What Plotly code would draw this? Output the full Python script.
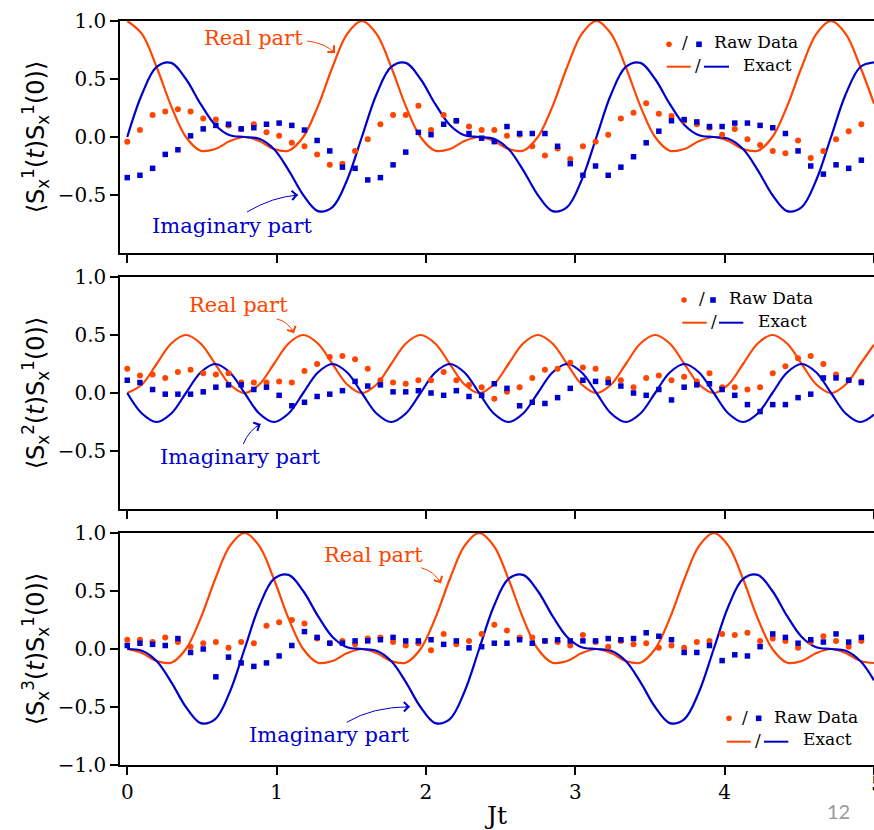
import plotly.graph_objects as go

# ---------------- data ----------------
# exact curves sampled in Jt
t_exact = [0, 0.0982, 0.1963, 0.2945, 0.3927, 0.4909, 0.5890, 0.6872, 0.7854, 0.8836,
           0.9817, 1.0799, 1.1781, 1.2763, 1.3744, 1.4726, 1.5708, 1.6690, 1.7671, 1.8653,
           1.9635, 2.0617, 2.1598, 2.2580, 2.3562, 2.4544, 2.5525, 2.6507, 2.7489, 2.8471,
           2.9452, 3.0434, 3.1416, 3.2398, 3.3379, 3.4361, 3.5343, 3.6325, 3.7306, 3.8288,
           3.9270, 4.0252, 4.1233, 4.2215, 4.3197, 4.4179, 4.5160, 4.6142, 4.7124, 4.8106,
           4.9087, 5.0]

exact_re1 = [1, .8887, .6036, .2646, 0, -.1181, -.1036, -.0352, 0, -.0352, -.1036, -.1181, 0, .2646, .6036, .8887,
             1, .8887, .6036, .2646, 0, -.1181, -.1036, -.0352, 0, -.0352, -.1036, -.1181, 0, .2646, .6036, .8887,
             1, .8887, .6036, .2646, 0, -.1181, -.1036, -.0352, 0, -.0352, -.1036, -.1181, 0, .2646, .6036, .8887,
             1, .8887, .6036, .2877]
exact_im1 = [0, .3681, .6036, .6387, .5, .2852, .1036, .0146, 0, -.0146, -.1036, -.2852, -.5, -.6387, -.6036, -.3681,
             0, .3681, .6036, .6387, .5, .2852, .1036, .0146, 0, -.0146, -.1036, -.2852, -.5, -.6387, -.6036, -.3681,
             0, .3681, .6036, .6387, .5, .2852, .1036, .0146, 0, -.0146, -.1036, -.2852, -.5, -.6387, -.6036, -.3681,
             0, .3681, .6036, .6428]
exact_re2 = [0, .0732, .25, .4268, .5, .4268, .25, .0732, 0, .0732, .25, .4268, .5, .4268, .25, .0732,
             0, .0732, .25, .4268, .5, .4268, .25, .0732, 0, .0732, .25, .4268, .5, .4268, .25, .0732,
             0, .0732, .25, .4268, .5, .4268, .25, .0732, 0, .0732, .25, .4268, .5, .4268, .25, .0732,
             0, .0732, .25, .4166]
exact_im2 = [0, -.1768, -.25, -.1768, 0, .1768, .25, .1768, 0, -.1768, -.25, -.1768, 0, .1768, .25, .1768,
             0, -.1768, -.25, -.1768, 0, .1768, .25, .1768, 0, -.1768, -.25, -.1768, 0, .1768, .25, .1768,
             0, -.1768, -.25, -.1768, 0, .1768, .25, .1768, 0, -.1768, -.25, -.1768, 0, .1768, .25, .1768,
             0, -.1768, -.25, -.1864]
exact_re3 = [0, -.0352, -.1036, -.1181, 0, .2646, .6036, .8887, 1, .8887, .6036, .2646, 0, -.1181, -.1036, -.0352,
             0, -.0352, -.1036, -.1181, 0, .2646, .6036, .8887, 1, .8887, .6036, .2646, 0, -.1181, -.1036, -.0352,
             0, -.0352, -.1036, -.1181, 0, .2646, .6036, .8887, 1, .8887, .6036, .2646, 0, -.1181, -.1036, -.0352,
             0, -.0352, -.1036, -.1208]
exact_im3 = [0, -.0146, -.1036, -.2852, -.5, -.6387, -.6036, -.3681, 0, .3681, .6036, .6387, .5, .2852, .1036, .0146,
             0, -.0146, -.1036, -.2852, -.5, -.6387, -.6036, -.3681, 0, .3681, .6036, .6387, .5, .2852, .1036, .0146,
             0, -.0146, -.1036, -.2852, -.5, -.6387, -.6036, -.3681, 0, .3681, .6036, .6387, .5, .2852, .1036, .0146,
             0, -.0146, -.1036, -.2700]

# raw data times
t_raw = [0, 0.0847, 0.1695, 0.2542, 0.3390, 0.4237, 0.5085, 0.5932, 0.6780, 0.7627,
         0.8475, 0.9322, 1.0169, 1.1017, 1.1864, 1.2712, 1.3559, 1.4407, 1.5254, 1.6102,
         1.6949, 1.7797, 1.8644, 1.9492, 2.0339, 2.1186, 2.2034, 2.2881, 2.3729, 2.4576,
         2.5424, 2.6271, 2.7119, 2.7966, 2.8814, 2.9661, 3.0508, 3.1356, 3.2203, 3.3051,
         3.3898, 3.4746, 3.5593, 3.6441, 3.7288, 3.8136, 3.8983, 3.9831, 4.0678, 4.1525,
         4.2373, 4.3220, 4.4068, 4.4915, 4.5763, 4.6610, 4.7458, 4.8305, 4.9153]

raw_re1 = [-0.04, 0.06, 0.19, 0.22, 0.24, 0.22, 0.16, 0.15, 0.10, 0.07,
           0.11, 0.04, 0.01, -0.05, -0.08, -0.15, -0.24, -0.23, -0.12, -0.02,
           0.11, 0.19, 0.19, 0.27, 0.06, 0.19, 0.14, 0.09, 0.06, 0.06,
           0.01, 0.02, -0.08, -0.16, -0.10, -0.19, -0.08, -0.04, 0.02, 0.16,
           0.21, 0.29, 0.20, 0.18, 0.14, 0.11, 0.08, 0.02, 0.07, -0.02,
           -0.07, -0.12, -0.14, -0.03, -0.18, -0.12, -0.02, 0.05, 0.11]
raw_im1 = [-0.35, -0.33, -0.27, -0.15, -0.11, 0.01, 0.07, 0.10, 0.11, 0.07,
           0.08, 0.11, 0.12, 0.10, 0.06, -0.03, -0.12, -0.26, -0.27, -0.37,
           -0.35, -0.24, -0.13, 0.04, 0.02, 0.11, 0.14, 0.03, -0.01, -0.04,
           0.09, 0.03, 0.03, 0.03, -0.08, -0.23, -0.33, -0.25, -0.33, -0.26,
           -0.17, -0.05, 0.05, 0.14, 0.15, 0.13, 0.09, 0.09, 0.12, 0.12,
           0.10, 0.08, 0.03, -0.12, -0.25, -0.32, -0.24, -0.27, -0.20]
raw_re2 = [0.21, 0.15, 0.16, 0.13, 0.18, 0.20, 0.17, 0.16, 0.17, 0.09,
           0.09, 0.09, 0.10, 0.09, 0.19, 0.25, 0.31, 0.32, 0.29, 0.21,
           0.11, 0.09, 0.08, 0.11, 0.11, 0.18, 0.11, 0.07, 0.05, -0.05,
           0.01, 0.05, 0.13, 0.20, 0.21, 0.26, 0.22, 0.21, 0.12, 0.11,
           0.05, 0.13, 0.15, 0.11, 0.14, 0.10, 0.17, 0.05, 0.05, 0.03,
           0.05, 0.17, 0.23, 0.30, 0.32, 0.25, 0.16, 0.11, 0.10]
raw_im2 = [0.11, 0.09, 0.03, -0.01, -0.01, -0.01, 0.01, 0.05, 0.07, 0.07,
           0.03, 0.05, -0.02, -0.11, -0.08, -0.03, -0.01, 0.02, 0.10, 0.06,
           0.07, 0.01, 0.01, 0.02, 0.00, -0.02, 0.02, -0.03, -0.02, 0.08,
           0.04, -0.11, -0.08, -0.09, -0.04, 0.04, 0.11, 0.10, 0.09, 0.06,
           0.00, -0.02, 0.03, -0.06, 0.05, 0.07, 0.08, 0.03, -0.02, -0.10,
           -0.16, -0.10, -0.10, -0.04, -0.01, 0.13, 0.13, 0.11, 0.09]
raw_re3 = [0.08, 0.08, 0.06, 0.10, 0.06, 0.02, 0.05, 0.06, 0.01, 0.06,
           0.05, 0.20, 0.23, 0.25, 0.22, 0.09, 0.05, 0.07, 0.04, 0.09,
           0.10, 0.06, 0.03, 0.05, -0.01, 0.13, 0.04, 0.07, 0.13, 0.21,
           0.16, 0.10, 0.10, 0.07, 0.06, 0.03, 0.12, 0.06, 0.02, 0.07,
           0.04, 0.05, 0.01, 0.03, 0.01, 0.06, 0.07, 0.13, 0.12, 0.14,
           0.07, 0.09, 0.07, 0.01, 0.06, 0.11, 0.07, 0.02, 0.07]
raw_im3 = [0.03, 0.05, 0.04, 0.03, 0.09, -0.03, 0.00, -0.24, -0.07, -0.12,
           -0.15, -0.12, -0.06, 0.03, 0.15, 0.10, 0.05, 0.05, 0.07, 0.07,
           0.08, 0.10, 0.07, 0.07, 0.08, 0.04, 0.07, 0.01, 0.02, 0.05,
           0.05, 0.08, 0.05, 0.07, 0.08, 0.07, 0.07, 0.07, 0.09, 0.08,
           0.09, 0.14, 0.11, 0.08, -0.03, -0.03, 0.03, -0.10, -0.05, -0.06,
           0.02, 0.13, 0.10, 0.05, 0.08, 0.06, 0.13, 0.06, 0.10]

x_ticks = [0, 1, 2, 3, 4, 5]
y_ticks_top = [-0.5, 0, 0.5, 1]
y_ticks_bottom = [-1, -0.5, 0, 0.5, 1]
y_labels = ["⟨S<sub>x</sub><sup>1</sup>(<i>t</i>)S<sub>x</sub><sup>1</sup>(0)⟩",
            "⟨S<sub>x</sub><sup>2</sup>(<i>t</i>)S<sub>x</sub><sup>1</sup>(0)⟩",
            "⟨S<sub>x</sub><sup>3</sup>(<i>t</i>)S<sub>x</sub><sup>1</sup>(0)⟩"]

# ---------------- styling / layout ----------------
RED = "#FF4500"
BLUE = "#0000CD"
W, H = 874, 830
L, R, T, B = 120, 874, 21, 765
SERIF = "DejaVu Serif"


def fx(px):
    return (px - L) / (R - L)


def fy(py):
    return (B - py) / (B - T)


panels = [
    (exact_re1, exact_im1, raw_re1, raw_im1),
    (exact_re2, exact_im2, raw_re2, raw_im2),
    (exact_re3, exact_im3, raw_re3, raw_im3),
]
domains = [[fy(253), 1.0], [fy(509), fy(277)], [0.0, fy(533)]]

fig = go.Figure()
for i, (ere, eim, rre, rim) in enumerate(panels):
    xa = "x" if i == 0 else f"x{i+1}"
    ya = "y" if i == 0 else f"y{i+1}"
    fig.add_trace(go.Scatter(x=t_exact, y=ere, mode="lines", xaxis=xa, yaxis=ya,
                             line=dict(color=RED, width=2.2, shape="spline"), showlegend=False))
    fig.add_trace(go.Scatter(x=t_exact, y=eim, mode="lines", xaxis=xa, yaxis=ya,
                             line=dict(color=BLUE, width=2.2, shape="spline"), showlegend=False))
    fig.add_trace(go.Scatter(x=t_raw, y=rre, mode="markers", xaxis=xa, yaxis=ya,
                             marker=dict(color=RED, size=6, symbol="circle", line=dict(width=0)),
                             showlegend=False))
    fig.add_trace(go.Scatter(x=t_raw, y=rim, mode="markers", xaxis=xa, yaxis=ya,
                             marker=dict(color=BLUE, size=5.5, symbol="square", line=dict(width=0)),
                             showlegend=False))

axis_common = dict(showline=True, linecolor="black", linewidth=1.5, ticks="outside",
                   ticklen=8, tickwidth=1.5, tickcolor="black", showgrid=False, zeroline=False,
                   tickfont=dict(family=SERIF, size=20, color="black"))

layout = dict(width=W, height=H, margin=dict(l=L, r=W - R, t=T, b=H - B),
              paper_bgcolor="white", plot_bgcolor="white", showlegend=False,
              font=dict(family=SERIF, color="black"))
for i in range(3):
    xk = "xaxis" if i == 0 else f"xaxis{i+1}"
    yk = "yaxis" if i == 0 else f"yaxis{i+1}"
    ya = "y" if i == 0 else f"y{i+1}"
    xa = "x" if i == 0 else f"x{i+1}"
    xd = dict(axis_common, domain=[0, 1], anchor=ya, range=[-0.0487, 5.0], mirror=True,
              tickvals=x_ticks, ticktext=[str(v) for v in x_ticks], showticklabels=(i == 2))
    if i == 2:
        xd["title"] = dict(text="Jt", font=dict(family=SERIF, size=25), standoff=8)
    yt = y_ticks_bottom if i == 2 else y_ticks_top
    yd = dict(axis_common, domain=domains[i], anchor=xa, range=[-1, 1], mirror=False,
              tickvals=yt, ticktext=[f"{v:.1f}".replace("-", "−") for v in yt],
              title=dict(text=y_labels[i], font=dict(family="DejaVu Sans", size=24), standoff=6))
    layout[xk] = xd
    layout[yk] = yd
fig.update_layout(**layout)

annotations = []
shapes = []


def text(xp, yp, s, color, size):
    annotations.append(dict(x=fx(xp), y=fy(yp), xref="paper", yref="paper", text=s,
                            showarrow=False, xanchor="center", yanchor="middle",
                            font=dict(family=SERIF, size=size, color=color)))


def curved_arrow(p0, c, p1, color):
    shapes.append(dict(type="path", xref="paper", yref="paper",
                       path=f"M {fx(p0[0])},{fy(p0[1])} Q {fx(c[0])},{fy(c[1])} {fx(p1[0])},{fy(p1[1])}",
                       line=dict(color=color, width=1)))
    dx, dy = p1[0] - c[0], p1[1] - c[1]
    n = (dx * dx + dy * dy) ** 0.5
    annotations.append(dict(x=fx(p1[0]), y=fy(p1[1]), xref="paper", yref="paper", text="",
                            showarrow=True, arrowhead=4, arrowsize=1.8, arrowwidth=1,
                            arrowcolor=color, standoff=0, ax=-dx / n * 6, ay=-dy / n * 6))


def legend(dot, sq, slash1, raw_txt, l1, slash2, l2, ex_txt):
    r = 2.8
    shapes.append(dict(type="circle", xref="paper", yref="paper", x0=fx(dot[0] - r), x1=fx(dot[0] + r),
                       y0=fy(dot[1] + r), y1=fy(dot[1] - r), fillcolor=RED, line=dict(width=0)))
    shapes.append(dict(type="rect", xref="paper", yref="paper", x0=fx(sq[0] - r), x1=fx(sq[0] + r),
                       y0=fy(sq[1] + r), y1=fy(sq[1] - r), fillcolor=BLUE, line=dict(width=0)))
    text(slash1[0], slash1[1], "/", "black", 17)
    text(raw_txt[0], raw_txt[1], "Raw Data", "black", 17)
    shapes.append(dict(type="line", xref="paper", yref="paper", x0=fx(l1[0]), x1=fx(l1[1]),
                       y0=fy(l1[2]), y1=fy(l1[2]), line=dict(color=RED, width=2)))
    text(slash2[0], slash2[1], "/", "black", 17)
    shapes.append(dict(type="line", xref="paper", yref="paper", x0=fx(l2[0]), x1=fx(l2[1]),
                       y0=fy(l2[2]), y1=fy(l2[2]), line=dict(color=BLUE, width=2)))
    text(ex_txt[0], ex_txt[1], "Exact", "black", 17)


# top panel
text(253, 38, "Real part", RED, 21)
curved_arrow((307, 41), (325, 43), (335, 53), RED)
text(232, 226, "Imaginary part", BLUE, 21)
curved_arrow((247, 212), (272, 197), (298, 195), BLUE)
legend((669, 44.3), (699, 44.3), (684.5, 42), (755.5, 42),
       (666.7, 690.7, 66.7), (698, 65), (704, 729, 66.7), (767, 65))

# middle panel
text(238, 305, "Real part", RED, 21)
curved_arrow((276.7, 319), (288, 321), (294, 333.3), RED)
text(240, 457, "Imaginary part", BLUE, 21)
curved_arrow((243.3, 444), (249, 430), (260.7, 424), BLUE)
legend((684, 300), (713, 300), (701.5, 298), (771, 298),
       (682.3, 706.7, 322.7), (713.5, 321), (719, 743.3, 322.7), (782, 321))

# bottom panel
text(373, 555, "Real part", RED, 21)
curved_arrow((421, 567.7), (434, 571), (441, 583.3), RED)
text(329.5, 735, "Imaginary part", BLUE, 21)
curved_arrow((346.7, 722.3), (372, 707), (410, 706.7), BLUE)
legend((729, 718.3), (758.7, 718.3), (745, 717), (816, 717),
       (726.7, 750.7, 741.7), (757.5, 740), (764, 788.3, 741.7), (827, 739))

# last x tick label, cut by the right edge of the page as in the reference
annotations.append(dict(x=fx(877), y=fy(784), xref="paper", yref="paper", text=str(x_ticks[-1]),
                        showarrow=False, xanchor="center", yanchor="middle",
                        font=dict(family=SERIF, size=20, color="black")))

# page number
annotations.append(dict(x=fx(838), y=fy(811), xref="paper", yref="paper", text="12",
                        showarrow=False, xanchor="center", yanchor="middle",
                        font=dict(family="Lato", size=20, color="#999999")))

fig.update_layout(annotations=annotations, shapes=shapes)
fig.write_html("out.html")
